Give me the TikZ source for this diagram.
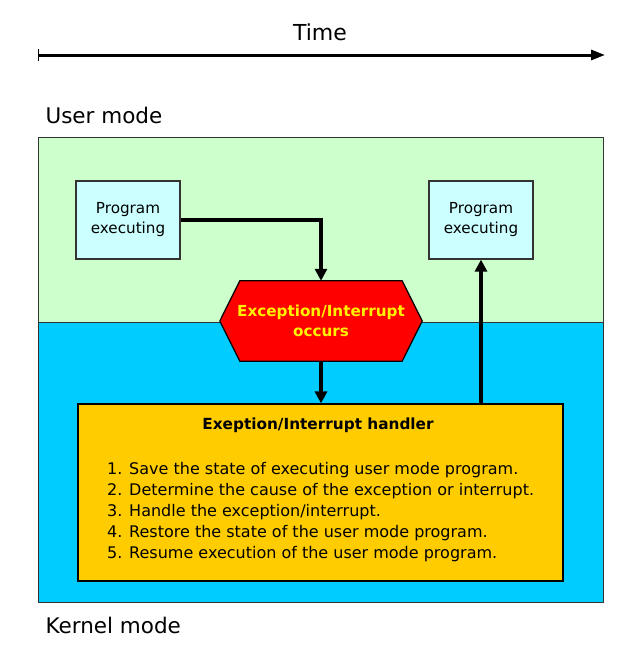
\documentclass[tikz,border=0pt]{standalone}
\usepackage{fontspec}
\setmainfont{DejaVu Sans}
\usetikzlibrary{arrows.meta}
\definecolor{userbg}{HTML}{CCFFCC}
\definecolor{kernelbg}{HTML}{00CCFF}
\definecolor{progbg}{HTML}{CCFFFF}
\definecolor{handlerbg}{HTML}{FFCC00}
\definecolor{framegray}{HTML}{333333}
\begin{document}
\begin{tikzpicture}[
  x=1pt, y=-1pt,
  region/.style={
    rectangle, draw=framegray, line width=1.2pt,
    inner sep=0pt, anchor=north west
  },
  prog/.style={
    rectangle, draw=framegray, line width=1.2pt, fill=progbg,
    minimum width=104pt, minimum height=78pt,
    align=center, font=\fontsize{15.2}{20}\selectfont
  },
  event/.style={
    rectangle, inner sep=0pt,
    minimum width=202pt, minimum height=80pt,
    align=center, text=yellow,
    font=\fontsize{15.2}{20}\selectfont\bfseries
  },
  handler/.style={
    rectangle, draw=black, line width=1.2pt, fill=handlerbg,
    minimum width=485pt, minimum height=177pt
  },
  modelabel/.style={anchor=base west, font=\fontsize{21.5}{24}\selectfont},
  flow/.style={draw, line width=4pt, -{Triangle[length=12pt,width=12pt]}}
]
\useasboundingbox (0,0) rectangle (640,653);

% --- time axis ---
\node[font=\fontsize{22}{24}\selectfont, anchor=base] (time) at (320,40) {Time};
\coordinate (t0) at (38,55);
\coordinate (t1) at (605,55);
\draw[line width=3pt, {Bar[width=12pt,line width=1pt]}-{Triangle[length=14pt,width=10pt]}] (t0) -- (t1);

% --- mode regions ---
\node[region, fill=userbg, minimum width=565pt, minimum height=185pt] (user) at (38,137) {};
\node[region, fill=kernelbg, minimum width=565pt, minimum height=280pt] (kernel) at (38,322) {};
\node[modelabel] (userlbl) at (42,123) {User mode};
\node[modelabel] (kernellbl) at (42,633) {Kernel mode};

% --- nodes ---
\node[prog] (progA) at (128,220) {Program\\executing};
\node[prog] (progB) at (481,220) {Program\\executing};

\node[event] (exc) at (321,321) {Exception/Interrupt\\occurs};
\fill[red, draw=black, line width=1.2pt]
  ([xshift=20pt]exc.north west) -- ([xshift=-20pt]exc.north east) -- (exc.east)
  -- ([xshift=-20pt]exc.south east) -- ([xshift=20pt]exc.south west) -- (exc.west) -- cycle;
\node[event] at (exc) {Exception/Interrupt\\occurs};

\node[handler] (hdl) at (320.5,492.5) {};
\node[font=\fontsize{15.3}{20}\selectfont\bfseries, anchor=base] (hdltitle) at (318,429) {Exeption/Interrupt handler};
\node[anchor=base west, align=left, inner sep=0pt, font=\fontsize{16}{21}\selectfont] (steps) at (107,558)
  {1. Save the state of executing user mode program.\\
   2. Determine the cause of the exception or interrupt.\\
   3. Handle the exception/interrupt.\\
   4. Restore the state of the user mode program.\\
   5. Resume execution of the user mode program.};

% --- connectors ---
\draw[flow] (progA.east) -| (exc.north);
\draw[flow] (exc.south) -- (hdl.north -| exc.south);
\draw[flow] (hdl.north -| progB.south) -- (progB.south);

\end{tikzpicture}
\end{document}
